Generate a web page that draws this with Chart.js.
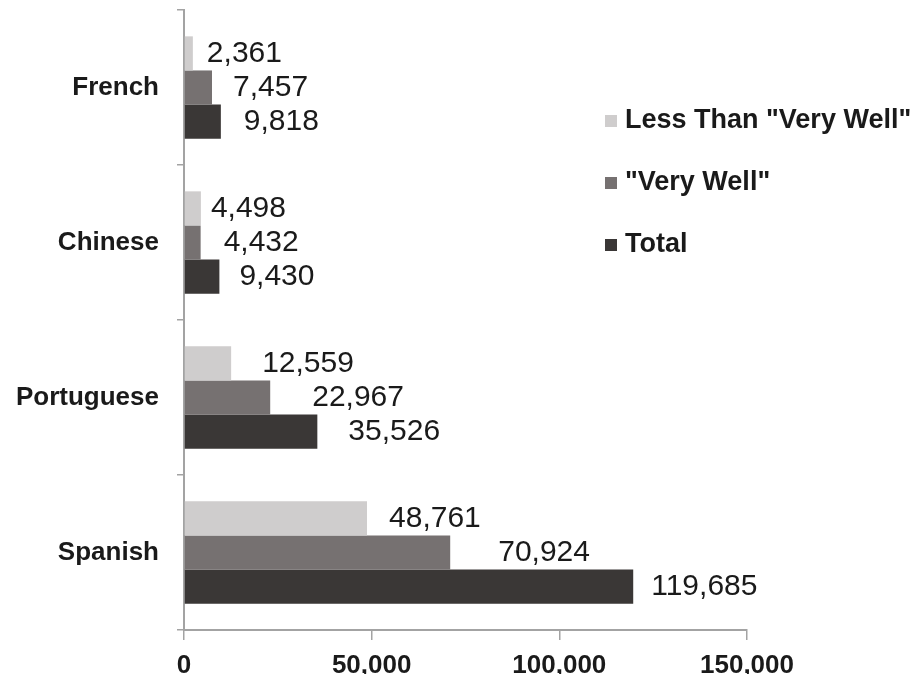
<!DOCTYPE html>
<html>
<head>
<meta charset="utf-8">
<title>Languages</title>
<script src="https://cdn.jsdelivr.net/npm/chart.js@4.4.1/dist/chart.umd.min.js"></script>
<style>
  html, body { margin: 0; padding: 0; background: #fff; }
</style>
</head>
<body>
<canvas id="langChart" width="913" height="674"></canvas>
<script>
// values
const languages = ["French", "Chinese", "Portuguese", "Spanish"];
const lessThanVeryWell = [2361, 4498, 12559, 48761];
const veryWell = [7457, 4432, 22967, 70924];
const totals = [9818, 9430, 35526, 119685];
const seriesNames = ['Less Than "Very Well"', '"Very Well"', "Total"];
const xTicks = [0, 50000, 100000, 150000];

// gap between bar end and its number (labels were hand placed in the original)
const labelGap = [
  [14, 10, 31, 22],
  [21, 23, 42, 48],
  [23, 20, 31, 18]
];

const FONT = "'Liberation Sans', Arial, sans-serif";
const INK = "#1a1a1a";
const AXIS = "#a3a3a3";

Chart.defaults.font.family = FONT;

const barValueLabels = {
  id: "barValueLabels",
  afterDatasetsDraw(chart) {
    const c = chart.ctx;
    c.save();
    c.font = "30px " + FONT;
    c.fillStyle = INK;
    c.textAlign = "left";
    c.textBaseline = "middle";
    chart.data.datasets.forEach((ds, i) => {
      chart.getDatasetMeta(i).data.forEach((bar, j) => {
        c.fillText(ds.data[j].toLocaleString("en-US"), bar.x + labelGap[i][j], bar.y);
      });
    });
    c.restore();
  }
};

// legend sits over the empty right part of the plot, so draw it by hand
const sideLegend = {
  id: "sideLegend",
  afterDraw(chart) {
    const c = chart.ctx;
    c.save();
    c.font = "bold 27px " + FONT;
    c.textAlign = "left";
    c.textBaseline = "middle";
    chart.data.datasets.forEach((ds, i) => {
      const y = 121 + i * 62;
      c.fillStyle = ds.backgroundColor;
      c.fillRect(605, y - 6, 12, 12);
      c.fillStyle = INK;
      c.fillText(ds.label, 625, y);
    });
    c.restore();
  }
};

document.addEventListener("DOMContentLoaded", () => {
  const ctx = document.getElementById("langChart").getContext("2d");

  new Chart(ctx, {
    type: "bar",
    data: {
      labels: languages,
      datasets: [
        { label: seriesNames[0], data: lessThanVeryWell, backgroundColor: "#cfcdcd" },
        { label: seriesNames[1], data: veryWell, backgroundColor: "#767171" },
        { label: seriesNames[2], data: totals, backgroundColor: "#3a3736" }
      ]
    },
    options: {
      indexAxis: "y",
      responsive: false,
      animation: false,
      categoryPercentage: 0.66,
      barPercentage: 1,
      layout: { padding: { top: 10, right: 166, left: 0, bottom: 0 } },
      plugins: {
        legend: { display: false },
        tooltip: { enabled: false }
      },
      scales: {
        x: {
          min: xTicks[0],
          max: xTicks[xTicks.length - 1],
          afterBuildTicks: (scale) => {
            scale.ticks = xTicks.map(v => ({ value: v }));
          },
          afterFit: (scale) => { scale.height = 44; },
          grid: { drawOnChartArea: false, tickLength: 10, color: AXIS, lineWidth: 1.5 },
          border: { display: true, color: AXIS, width: 2 },
          ticks: {
            color: INK,
            font: { size: 26, weight: "bold" },
            padding: 10,
            maxRotation: 0,
            callback: (v) => Number(v).toLocaleString("en-US")
          }
        },
        y: {
          afterFit: (scale) => {
            scale.width = 184;
            scale.paddingTop = 0;
            scale.paddingBottom = 0;
          },
          grid: { drawOnChartArea: false, tickLength: 7, color: AXIS, lineWidth: 1.5, offset: true },
          border: { display: true, color: AXIS, width: 2 },
          ticks: {
            color: INK,
            font: { size: 26, weight: "bold" },
            padding: 18
          }
        }
      }
    },
    plugins: [barValueLabels, sideLegend]
  });
});
</script>
</body>
</html>
